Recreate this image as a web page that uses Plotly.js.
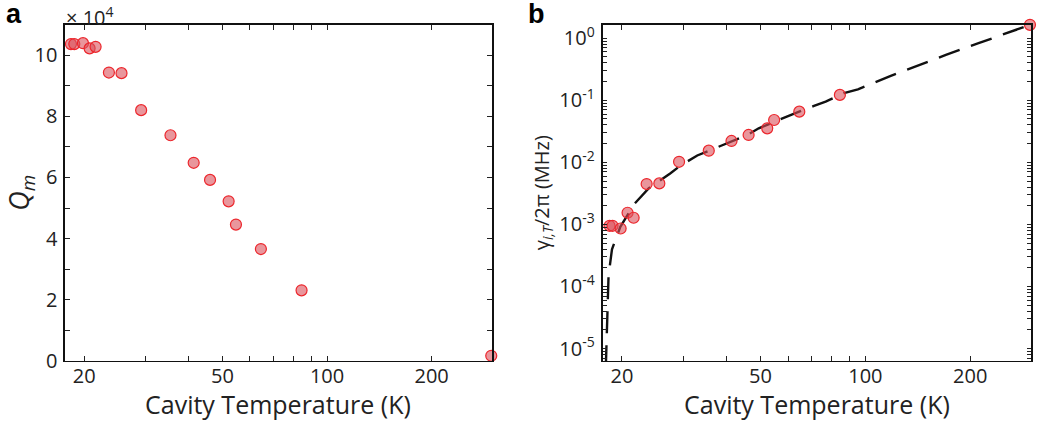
<!DOCTYPE html>
<html>
<head>
<meta charset="utf-8">
<script src="https://cdn.plot.ly/plotly-3.0.1.min.js"></script>
<style>html,body{margin:0;padding:0;background:#fff;}#chart{width:1038px;height:424px;}</style>
</head>
<body>
<div id="chart"></div>
<script>
// Panel a: mechanical quality factor (in units of 10^4)
const tempA = [18.31, 18.72, 19.83, 20.72, 21.56, 23.55, 25.6, 29.16, 35.42, 41.31, 46.04, 52.08, 54.67, 64.5, 84.45, 297];
const qmX1e4 = [10.36, 10.36, 10.39, 10.22, 10.27, 9.43, 9.41, 8.20, 7.38, 6.48, 5.92, 5.22, 4.46, 3.66, 2.31, 0.17];

// Panel b: thermal dissipation rate gamma_{i,T}/2pi (MHz)
const tempB = [18.42, 18.79, 19.82, 20.75, 21.6, 23.54, 25.6, 29.17, 35.5, 41.26, 46.2, 52.26, 54.7, 64.6, 84.5, 297];
const gammaMHz = [9.5e-4, 9.5e-4, 8.6e-4, 1.54e-3, 1.28e-3, 4.47e-3, 4.58e-3, 1.02e-2, 1.54e-2, 2.21e-2, 2.76e-2, 3.53e-2, 4.81e-2, 6.55e-2, 0.122, 1.64];

// Dashed fit curve
const fitT = [17.97, 18.1, 18.18, 18.3, 18.72, 19.78, 21.7, 23.85, 27.5, 29.4, 32.9, 39.6, 45.8, 49.4, 57.1, 61.7, 71.2, 76.9, 86.8, 95.2, 118.3, 136.6, 170.3, 211.4, 261.9, 297];
const fitGamma = [5.0e-6, 2.88e-5, 6.03e-5, 1.51e-4, 3.98e-4, 9.12e-4, 2.14e-3, 3.80e-3, 6.61e-3, 8.81e-3, 1.29e-2, 1.95e-2, 2.75e-2, 3.53e-2, 4.99e-2, 5.94e-2, 8.09e-2, 9.51e-2, 0.130, 0.150, 0.247, 0.336, 0.538, 0.830, 1.276, 1.64];

// Tick labels
const xTickVals = [20, 30, 40, 50, 60, 70, 80, 90, 100, 200];
const xTickText = ['20', '', '', '50', '', '', '', '', '100', '200'];
const yATickVals = [0, 1, 2, 3, 4, 5, 6, 7, 8, 9, 10, 11];
const yATickText = ['0', '', '2', '', '4', '', '6', '', '8', '', '10', ''];
const decades = [-6, -5, -4, -3, -2, -1, 0];
const yBTickVals = [];
const yBTickText = [];
decades.forEach(function (d) {
  for (let m = 1; m <= 9; m++) {
    yBTickVals.push(m * Math.pow(10, d));
    yBTickText.push(m === 1 ? '10<sup>' + (d === 0 ? '0' : '-' + Math.abs(d)) + '</sup>' : '');
  }
});

const FONT = 'Open Sans, Lato, sans-serif';
const markerStyle = {
  size: 11,
  color: 'rgba(218,80,90,0.6)',
  line: {color: 'rgb(236,38,44)', width: 1.2}
};

const traces = [
  {x: tempA, y: qmX1e4, type: 'scatter', mode: 'markers', marker: markerStyle, xaxis: 'x', yaxis: 'y', cliponaxis: false, showlegend: false},
  {x: fitT, y: fitGamma, type: 'scatter', mode: 'lines', line: {color: '#111', width: 2.4, dash: '22px,12px'}, xaxis: 'x2', yaxis: 'y2', showlegend: false},
  {x: tempB, y: gammaMHz, type: 'scatter', mode: 'markers', marker: markerStyle, xaxis: 'x2', yaxis: 'y2', cliponaxis: false, showlegend: false}
];

const xRange = [Math.log10(17.6), Math.log10(298.5)];
const commonX = {
  type: 'log', range: xRange, tickvals: xTickVals, ticktext: xTickText,
  ticks: 'inside', ticklen: 5, tickwidth: 1, tickcolor: '#222',
  showline: true, linecolor: '#111', linewidth: 1.5, mirror: 'ticks',
  showgrid: false, zeroline: false,
  tickfont: {family: FONT, size: 20, color: '#222'},
  ticklabelstandoff: -3
};

const titleFont = {family: FONT, size: 25, color: '#222'};

const layout = {
  width: 1038, height: 424,
  margin: {l: 0, r: 0, t: 0, b: 0},
  paper_bgcolor: '#fff', plot_bgcolor: '#fff',
  xaxis: Object.assign({}, commonX, {domain: [0.0626, 0.474], anchor: 'y'}),
  yaxis: {
    domain: [0.1486, 0.9422], anchor: 'x', range: [0, 11],
    tickvals: yATickVals, ticktext: yATickText,
    ticks: 'inside', ticklen: 5, tickwidth: 1, tickcolor: '#222',
    showline: true, linecolor: '#111', linewidth: 1.5, mirror: 'ticks',
    showgrid: false, zeroline: false,
    tickfont: {family: FONT, size: 20, color: '#222'},
    ticklabelstandoff: 2,
    title: {text: '<i>Q</i><sub><i>m</i></sub>', font: {family: FONT, size: 27, color: '#222'}, standoff: 8}
  },
  xaxis2: Object.assign({}, commonX, {domain: [0.5806, 0.993], anchor: 'y2'}),
  yaxis2: {
    domain: [0.1486, 0.9422], anchor: 'x2', type: 'log', range: [-5.2, 0.22],
    tickvals: yBTickVals, ticktext: yBTickText,
    ticks: 'inside', ticklen: 4, tickwidth: 1, tickcolor: '#222',
    showline: true, linecolor: '#111', linewidth: 2, mirror: 'ticks',
    showgrid: false, zeroline: false,
    tickfont: {family: FONT, size: 20, color: '#222'},
    ticklabelstandoff: 2,
    title: {text: 'γ<sub><i>i,T</i></sub>/2π (MHz)', font: {family: FONT, size: 20, color: '#222'}, standoff: 4}
  },
  annotations: [
    {text: 'Cavity Temperature (K)', x: (0.0626 + 0.474) / 2, y: 20 / 424, xref: 'paper', yref: 'paper', xanchor: 'center', yanchor: 'middle', showarrow: false, font: titleFont},
    {text: 'Cavity Temperature (K)', x: (0.5806 + 0.993) / 2, y: 20 / 424, xref: 'paper', yref: 'paper', xanchor: 'center', yanchor: 'middle', showarrow: false, font: titleFont},
    {text: '<b>a</b>', x: 0.004, y: 1.0, xref: 'paper', yref: 'paper', xanchor: 'left', yanchor: 'top', yshift: 3, showarrow: false, font: {family: 'Liberation Sans, Arial, sans-serif', size: 27, color: '#000'}},
    {text: '<b>b</b>', x: 0.507, y: 1.0, xref: 'paper', yref: 'paper', xanchor: 'left', yanchor: 'top', yshift: 3, showarrow: false, font: {family: 'Liberation Sans, Arial, sans-serif', size: 27, color: '#000'}},
    {text: '<span style="font-size:20px">× 10</span><sup>4</sup>', x: 0.0616, y: 0.9422, xref: 'paper', yref: 'paper', xanchor: 'left', yanchor: 'bottom', yshift: -8, showarrow: false, font: {family: FONT, size: 20, color: '#222'}}
  ]
};

Plotly.newPlot('chart', traces, layout, {displayModeBar: false, staticPlot: true});
</script>
</body>
</html>
